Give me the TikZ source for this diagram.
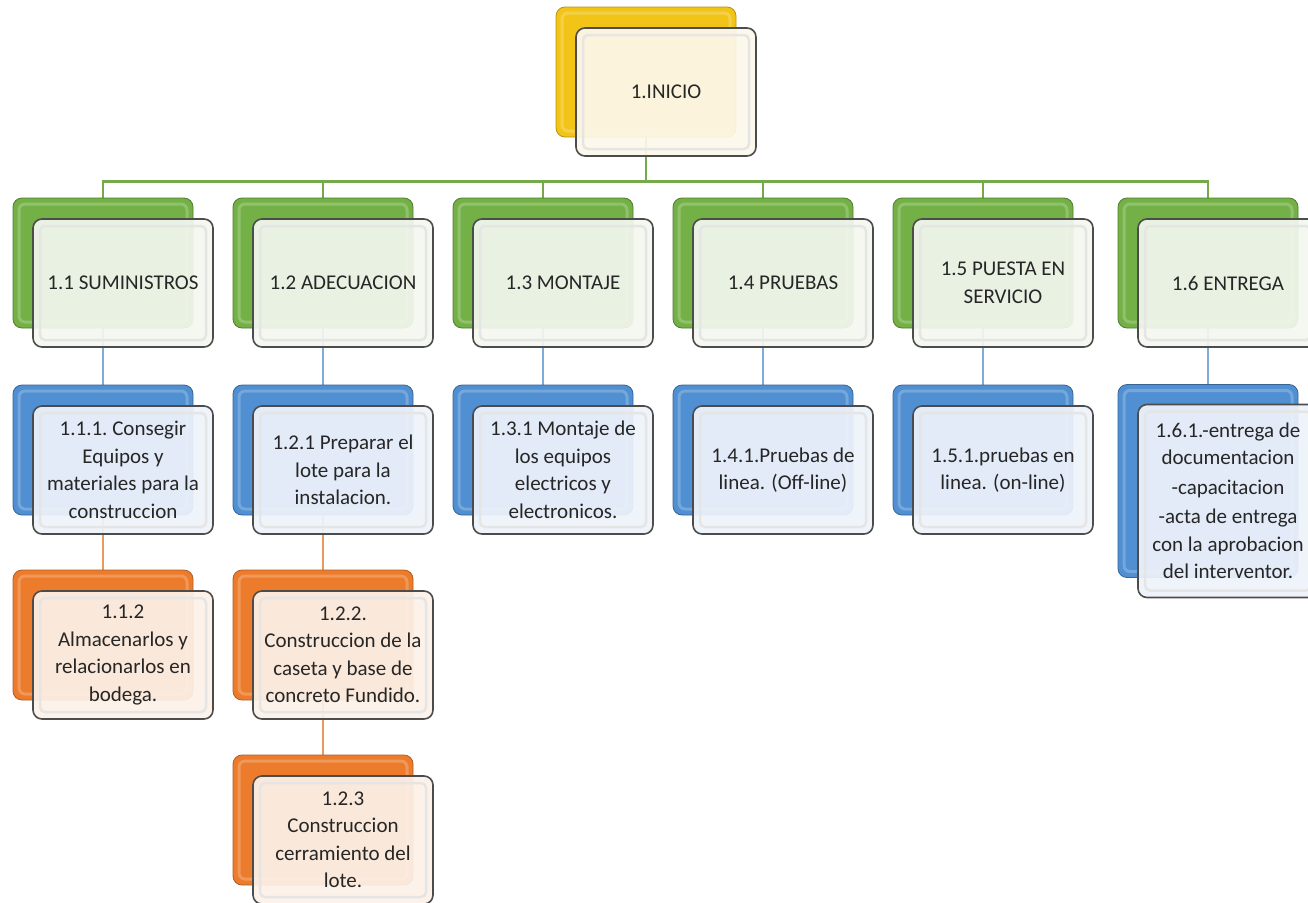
\documentclass[tikz,border=0pt]{standalone}
\usepackage{fontspec}
\setmainfont{Carlito}
\usetikzlibrary{backgrounds}
\definecolor{ylwB}{HTML}{F2C417}
\definecolor{ylwF}{HTML}{FCF7EA}
\definecolor{grnB}{HTML}{73B045}
\definecolor{grnF}{HTML}{F3F7EF}
\definecolor{bluB}{HTML}{4F8FD2}
\definecolor{bluF}{HTML}{EEF3FA}
\definecolor{orgB}{HTML}{EC7B2C}
\definecolor{orgF}{HTML}{FCF1E8}
\definecolor{grnL}{HTML}{76A94C}
\definecolor{bluL}{HTML}{7FAADC}
\definecolor{orgL}{HTML}{E49A62}
\tikzstyle{back}=[rounded corners=9, minimum width=180, minimum height=130, line width=0.8,
  path picture={\draw[white, opacity=.22, line width=3, rounded corners=6]
    ([shift={(6,6)}]path picture bounding box.north west) rectangle
    ([shift={(-6,-6)}]path picture bounding box.south east);}]
\tikzstyle{front}=[rounded corners=9, minimum width=180, minimum height=128, line width=1.6,
  draw=black!70, fill opacity=.93, text opacity=1, text=black!85, align=center,
  font=\fontsize{21}{27.5}\selectfont,
  path picture={\draw[black!10, line width=2.5, rounded corners=5]
    ([shift={(7,7)}]path picture bounding box.north west) rectangle
    ([shift={(-7,-7)}]path picture bounding box.south east);}]
\tikzstyle{ylw}=[fill=ylwB, draw=ylwB!75!black]
\tikzstyle{grn}=[fill=grnB, draw=grnB!70!black]
\tikzstyle{blu}=[fill=bluB, draw=bluB!70!black]
\tikzstyle{org}=[fill=orgB, draw=orgB!75!black]
\tikzstyle{lnk}=[line width=2.6]

\begin{document}
\begin{tikzpicture}[x=1pt, y=-1pt]
\useasboundingbox (0,0) rectangle (1308,902);
% Top
    \node[back, ylw] (ini) at (646,72) {};
    \node[front, fill=ylwF] (inif) at (666,92) {1.INICIO};
% Phases
    \node[back, grn] (f11) at (103,263) {};
    \node[front, fill=grnF] (f11f) at (123,283) {1.1 SUMINISTROS};
    \node[back, grn] (f12) at (323,263) {};
    \node[front, fill=grnF] (f12f) at (343,283) {1.2 ADECUACION};
    \node[back, grn] (f13) at (543,263) {};
    \node[front, fill=grnF] (f13f) at (563,283) {1.3 MONTAJE};
    \node[back, grn] (f14) at (763,263) {};
    \node[front, fill=grnF] (f14f) at (783,283) {1.4 PRUEBAS};
    \node[back, grn] (f15) at (983,263) {};
    \node[front, fill=grnF] (f15f) at (1003,283) {1.5 PUESTA EN\\SERVICIO};
    \node[back, grn] (f16) at (1208,263) {};
    \node[front, fill=grnF] (f16f) at (1228,283) {1.6 ENTREGA};
% Tasks
    \node[back, blu] (t111) at (103,450) {};
    \node[front, fill=bluF] (t111f) at (123,470) {1.1.1.\ Consegir\\Equipos y\\materiales para la\\construccion};
    \node[back, blu] (t121) at (323,450) {};
    \node[front, fill=bluF] (t121f) at (343,470) {1.2.1 Preparar el\\lote para la\\instalacion.};
    \node[back, blu] (t131) at (543,450) {};
    \node[front, fill=bluF] (t131f) at (563,470) {1.3.1 Montaje de\\los equipos\\electricos y\\electronicos.};
    \node[back, blu] (t141) at (763,450) {};
    \node[front, fill=bluF] (t141f) at (783,470) {1.4.1.Pruebas de\\linea. (Off-line)};
    \node[back, blu] (t151) at (983,450) {};
    \node[front, fill=bluF] (t151f) at (1003,470) {1.5.1.pruebas en\\linea. (on-line)};
    \node[back, blu, minimum height=193] (t161) at (1208,481) {};
    \node[front, fill=bluF, minimum height=193] (t161f) at (1228,501)
      {1.6.1.-entrega de\\documentacion\\[2pt]-capacitacion\\[2pt]-acta de entrega\\con la aprobacion\\del interventor.};
% Sub tasks
    \node[back, org] (t112) at (103,635) {};
    \node[front, fill=orgF] (t112f) at (123,655) {1.1.2\\Almacenarlos y\\relacionarlos en\\bodega.};
    \node[back, org] (t122) at (323,635) {};
    \node[front, fill=orgF] (t122f) at (343,655) {1.2.2.\\Construccion de la\\caseta y base de\\concreto Fundido.};
    \node[back, org] (t123) at (323,820) {};
    \node[front, fill=orgF] (t123f) at (343,840) {1.2.3\\Construccion\\cerramiento del\\lote.};
% Connectors
\begin{scope}[on background layer]
    \foreach \p in {f11,f12,f13,f14,f15,f16}
      \draw[lnk, grnL] (ini.south) -- ++(0,44) -| (\p.north);
    \draw[lnk, bluL] (f11.south) -- (t111.north);
    \draw[lnk, bluL] (f12.south) -- (t121.north);
    \draw[lnk, bluL] (f13.south) -- (t131.north);
    \draw[lnk, bluL] (f14.south) -- (t141.north);
    \draw[lnk, bluL] (f15.south) -- (t151.north);
    \draw[lnk, bluL] (f16.south) -- (t161.north);
    \draw[lnk, orgL] (t111.south) -- (t112.north);
    \draw[lnk, orgL] (t121.south) -- (t122.north);
    \draw[lnk, orgL] (t122.south) -- (t123.north);
\end{scope}
\end{tikzpicture}
\end{document}
